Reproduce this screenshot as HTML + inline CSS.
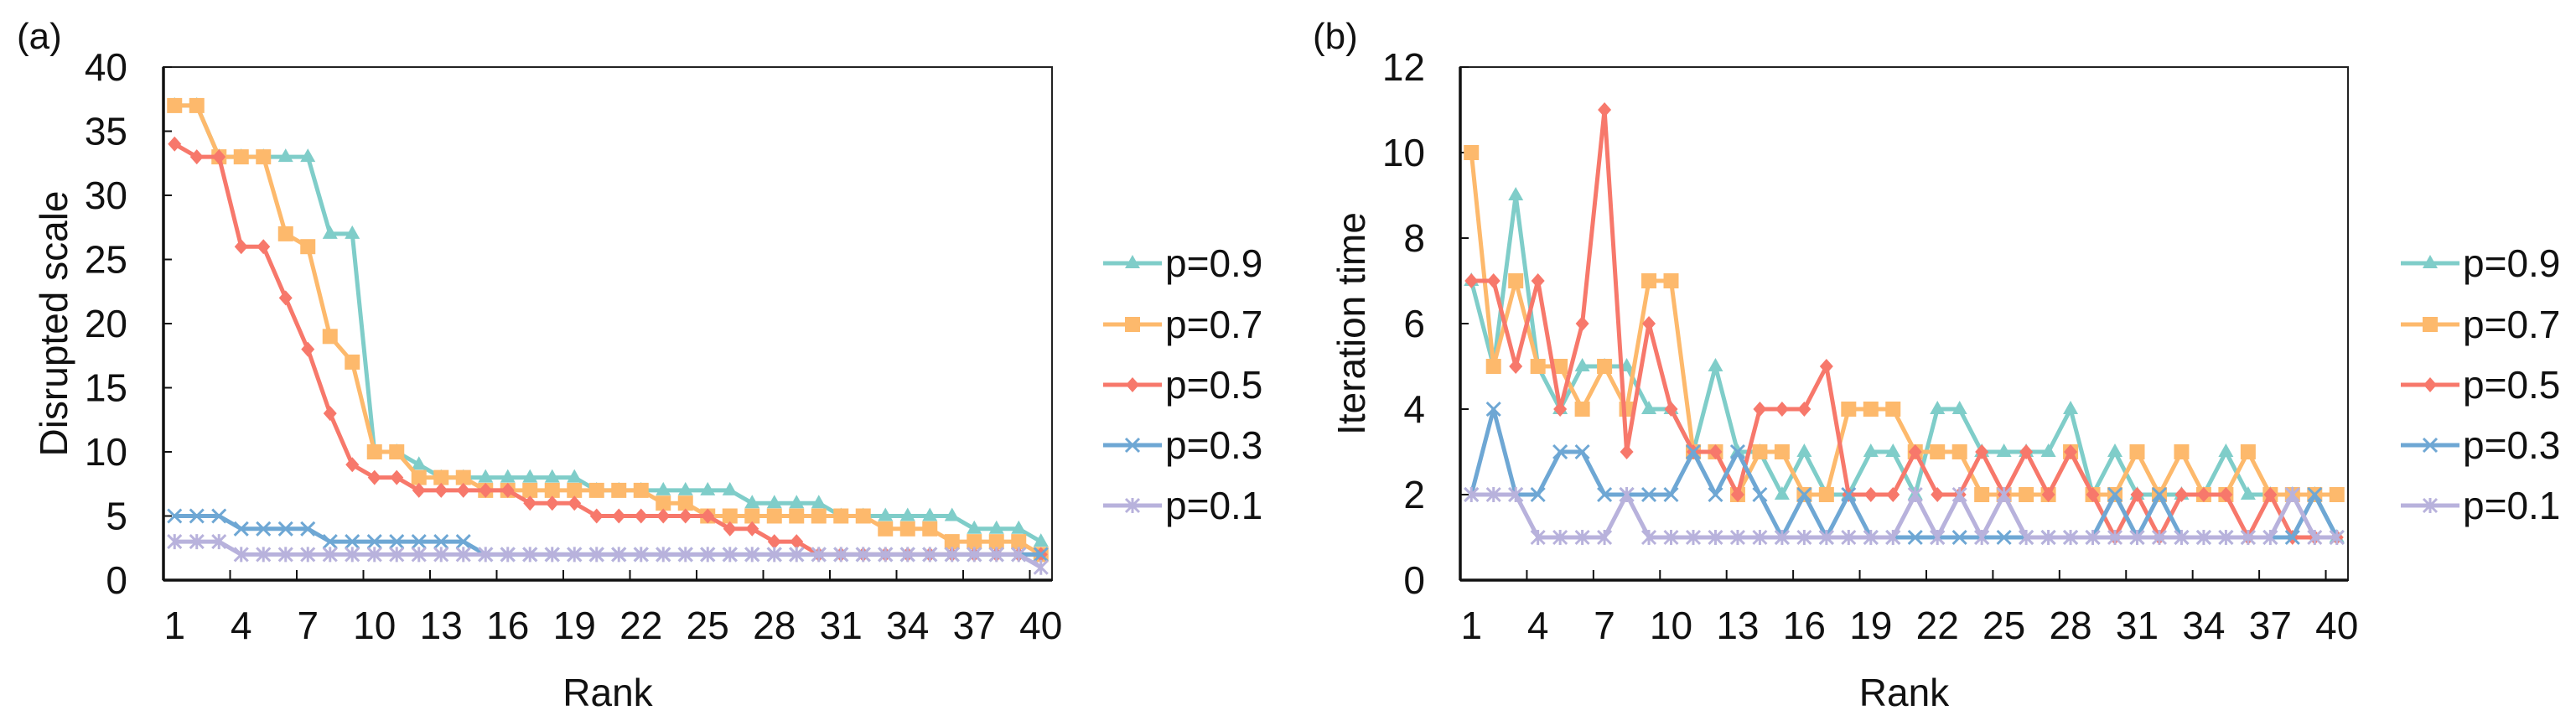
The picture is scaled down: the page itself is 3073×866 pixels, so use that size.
<!DOCTYPE html>
<html><head><meta charset="utf-8">
<style>
html,body{margin:0;padding:0;background:#fff;}
svg{display:block;font-family:"Liberation Sans",Arial,sans-serif;}
</style></head>
<body>
<svg id="fig" width="3073" height="866" viewBox="0 0 3073 866" xmlns="http://www.w3.org/2000/svg"></svg>
<script>
const ranks = Array.from({length:40},(_,i)=>i+1);
const seriesNames = ["p=0.9","p=0.7","p=0.5","p=0.3","p=0.1"];
const seriesKeys = ["p09","p07","p05","p03","p01"];
const xTickLabels = [1,4,7,10,13,16,19,22,25,28,31,34,37,40];
// Chart (a): disrupted scale
const scaleP09 = [37,37,33,33,33,33,33,27,27,10,10,9,8,8,8,8,8,8,8,7,7,7,7,7,7,7,6,6,6,6,5,5,5,5,5,5,4,4,4,3];
const scaleP07 = [37,37,33,33,33,27,26,19,17,10,10,8,8,8,7,7,7,7,7,7,7,7,6,6,5,5,5,5,5,5,5,5,4,4,4,3,3,3,3,2];
const scaleP05 = [34,33,33,26,26,22,18,13,9,8,8,7,7,7,7,7,6,6,6,5,5,5,5,5,5,4,4,3,3,2,2,2,2,2,2,2,2,2,2,2];
const scaleP03 = [5,5,5,4,4,4,4,3,3,3,3,3,3,3,2,2,2,2,2,2,2,2,2,2,2,2,2,2,2,2,2,2,2,2,2,2,2,2,2,2];
const scaleP01 = [3,3,3,2,2,2,2,2,2,2,2,2,2,2,2,2,2,2,2,2,2,2,2,2,2,2,2,2,2,2,2,2,2,2,2,2,2,2,2,1];
const scaleTicks = [0,5,10,15,20,25,30,35,40];
// Chart (b): iteration time
const iterP09 = [7,5,9,5,4,5,5,5,4,4,3,5,3,3,2,3,2,2,3,3,2,4,4,3,3,3,3,4,2,3,2,2,2,2,3,2,2,2,2,1];
const iterP07 = [10,5,7,5,5,4,5,4,7,7,3,3,2,3,3,2,2,4,4,4,3,3,3,2,2,2,2,3,2,2,3,2,3,2,2,3,2,2,2,2];
const iterP05 = [7,7,5,7,4,6,11,3,6,4,3,3,2,4,4,4,5,2,2,2,3,2,2,3,2,3,2,3,2,1,2,1,2,2,2,1,2,1,1,1];
const iterP03 = [2,4,2,2,3,3,2,2,2,2,3,2,3,2,1,2,1,2,1,1,1,1,1,1,1,1,1,1,1,2,1,2,1,1,1,1,1,1,2,1];
const iterP01 = [2,2,2,1,1,1,1,2,1,1,1,1,1,1,1,1,1,1,1,1,2,1,2,1,2,1,1,1,1,1,1,1,1,1,1,1,1,2,1,1];
const iterTicks = [0,2,4,6,8,10,12];

const colors = ["#7fcdc9","#fdb96c","#f7786b","#6ea7d4","#b8b2dc"];
const markers = ["tri","sq","dia","x","star"];
const NS="http://www.w3.org/2000/svg";
const svg=document.getElementById('fig');
function mk(tag,attrs,parent){const e=document.createElementNS(NS,tag);for(const k in attrs)e.setAttribute(k,attrs[k]);(parent||svg).appendChild(e);return e;}

function marker(g,type,x,y,c){
  let m;
  if(type==="tri") m=mk('polygon',{points:`${x},${y-10} ${x+9},${y+6} ${x-9},${y+6}`,fill:c},g);
  else if(type==="sq") m=mk('rect',{x:x-9,y:y-9,width:18,height:18,fill:c},g);
  else if(type==="dia") m=mk('polygon',{points:`${x},${y-9} ${x+8},${y} ${x},${y+9} ${x-8},${y}`,fill:c},g);
  else if(type==="x") m=mk('path',{d:`M${x-8},${y-8}L${x+8},${y+8}M${x-8},${y+8}L${x+8},${y-8}`,stroke:c,'stroke-width':3},g);
  else m=mk('path',{d:`M${x-8},${y-8}L${x+8},${y+8}M${x-8},${y+8}L${x+8},${y-8}M${x},${y-9}L${x},${y+9}`,stroke:c,'stroke-width':3},g);
  return m;
}

function drawChart(cfg){
  const {left,right,top,bottom,ymax,ticks,data,label,title,panel,labelX,titleX,legendX,name}=cfg;
  const root=mk('g',{});
  
  
  const n=ranks.length, bw=(right-left)/n;
  const xs=r=>left+(r-0.5)*bw;
  const ys=v=>bottom-(v/ymax)*(bottom-top);
  // frame
  const frame=mk('rect',{x:left,y:top,width:right-left,height:bottom-top,fill:'none',stroke:'#222','stroke-width':2},root);
  
  
  const xa=mk('line',{x1:left,y1:bottom,x2:right,y2:bottom,stroke:'#111','stroke-width':3.5},root);
  
  
  const ya=mk('line',{x1:left,y1:top,x2:left,y2:bottom,stroke:'#111','stroke-width':3.5},root);
  
  
  // y ticks
  ticks.forEach(t=>{
    const y=ys(t);
    mk('line',{x1:left,y1:y,x2:left+10,y2:y,stroke:'#111','stroke-width':2},root);
    const tx=mk('text',{x:labelX,y:y+16,'text-anchor':'end','font-size':46,fill:'#111'},root);
    tx.textContent=t;
    
    
  });
  // x ticks at boundaries every 3
  for(let k=3;k<n;k+=3){const x=left+k*bw;mk('line',{x1:x,y1:bottom,x2:x,y2:bottom-12,stroke:'#111','stroke-width':2},root);}
  {const x=left+(n-1)*bw;mk('line',{x1:x,y1:bottom,x2:x,y2:bottom-12,stroke:'#111','stroke-width':2},root);}
  xTickLabels.forEach(r=>{
    const tx=mk('text',{x:xs(r),y:762,'text-anchor':'middle','font-size':46,fill:'#111'},root);
    tx.textContent=r;
    
    
  });
  const xt=mk('text',{x:(left+right)/2,y:842,'text-anchor':'middle','font-size':46,fill:'#111'},root);
  xt.textContent='Rank';
  
  
  const yt=mk('text',{x:titleX,y:(top+bottom)/2,'text-anchor':'middle','font-size':46,fill:'#111',transform:`rotate(-90 ${titleX} ${(top+bottom)/2})`},root);
  yt.textContent=title;
  
  
  const pl=mk('text',{x:panel[0],y:panel[1],'font-size':44,fill:'#111'},root);
  pl.textContent=label;
  
  
  // series (draw bottom-most first so p=0.9 on top? reference: p=0.1 on top of later ones)
  const order=[0,1,2,3,4];
  order.forEach(si=>{
    const g=mk('g',{},root);
    
    
    const vals=data[si];
    const pts=vals.map((v,i)=>xs(ranks[i])+','+ys(v)).join(' ');
    const pl=mk('polyline',{points:pts,fill:'none',stroke:colors[si],'stroke-width':5,'stroke-linejoin':'round'},g);
    
    
    vals.forEach((v,i)=>{
      const m=marker(g,markers[si],xs(ranks[i]),ys(v),colors[si]);
      
      
    });
  });
  // legend
  const rows=[314,387,459,531,603];
  const lg=mk('g',{},root);
  
  
  seriesNames.forEach((s,i)=>{
    const e=mk('g',{},lg);
    
    
    mk('line',{x1:legendX,y1:rows[i],x2:legendX+70,y2:rows[i],stroke:colors[i],'stroke-width':5},e);
    marker(e,markers[i],legendX+35,rows[i],colors[i]);
    const t=mk('text',{x:legendX+74,y:rows[i]+16,'font-size':46,fill:'#111'},e);
    t.textContent=s;
  });
}

drawChart({name:'chart-a-disrupted-scale',left:195,right:1255,top:80,bottom:692,ymax:40,ticks:scaleTicks,
  data:[scaleP09,scaleP07,scaleP05,scaleP03,scaleP01],label:'(a)',title:'Disrupted scale',
  panel:[20,58],labelX:152,titleX:80,legendX:1316});
drawChart({name:'chart-b-iteration-time',left:1742,right:2801,top:80,bottom:692,ymax:12,ticks:iterTicks,
  data:[iterP09,iterP07,iterP05,iterP03,iterP01],label:'(b)',title:'Iteration time',
  panel:[1566,58],labelX:1700,titleX:1628,legendX:2864});
</script>
</body></html>
